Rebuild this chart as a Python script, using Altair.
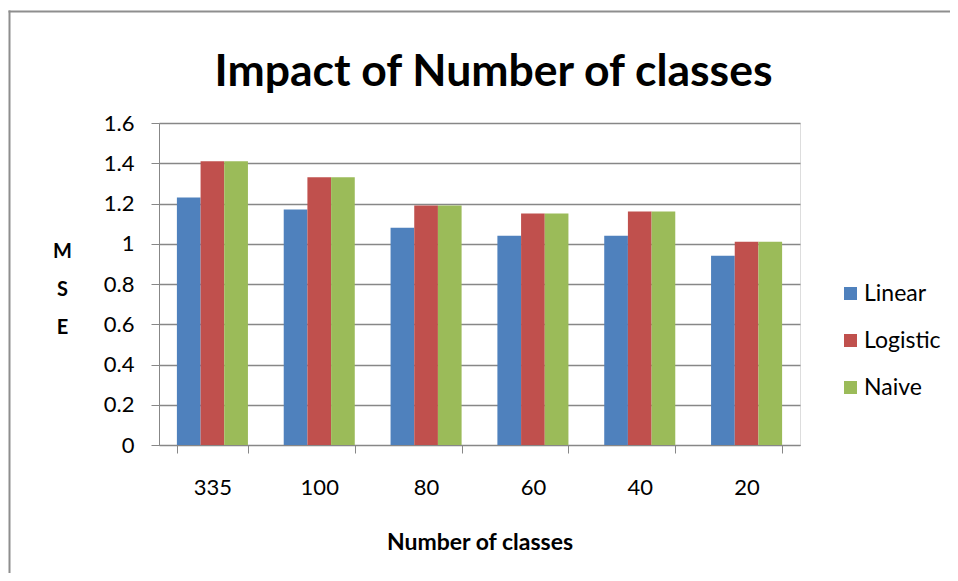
import altair as alt
import pandas as pd

categories = ["335", "100", "80", "60", "40", "20"]
series = ["Linear", "Logistic", "Naive"]
linear = [1.23, 1.17, 1.08, 1.04, 1.04, 0.94]
logistic = [1.41, 1.33, 1.19, 1.15, 1.16, 1.01]
naive = [1.41, 1.33, 1.19, 1.15, 1.16, 1.01]
colors = ["#4F81BD", "#C0504D", "#9BBB59"]
y_ticks = [0, 0.2, 0.4, 0.6, 0.8, 1, 1.2, 1.4, 1.6]

rows = []
for s, vals in zip(series, [linear, logistic, naive]):
    for c, v in zip(categories, vals):
        rows.append({"classes": c, "model": s, "mse": v})
df = pd.DataFrame(rows)

W, H = 641, 322
PL, PT = 151, 115
TOTW, TOTH = 942, 565
FONT = "Lato"
GRAY = "#878787"
FRAME = "#8E8E8E"

bars = alt.Chart(df).mark_bar().encode(
    x=alt.X(
        "classes:N",
        sort=categories,
        scale=alt.Scale(paddingInner=0.335, paddingOuter=0.1675),
        axis=alt.Axis(
            title="Number of classes",
            labelAngle=0,
            tickBand="extent",
            tickSize=8,
            tickColor=GRAY,
            domainColor=GRAY,
            labelFont=FONT,
            labelFontSize=22,
            labelColor="black",
            labelPadding=24,
            titleFont=FONT,
            titleFontSize=23,
            titleFontWeight="bold",
            titleColor="black",
            titlePadding=33,
        ),
    ),
    xOffset=alt.XOffset("model:N", sort=series),
    y=alt.Y(
        "mse:Q",
        scale=alt.Scale(domain=[0, 1.6]),
        axis=alt.Axis(
            values=y_ticks,
            format="~g",
            title=["M", "S", "E"],
            titleAngle=0,
            titleX=-97,
            titleY=134,
            titleAlign="center",
            titleBaseline="alphabetic",
            titleLineHeight=38,
            titleFont=FONT,
            titleFontSize=20,
            titleFontWeight="bold",
            titleColor="black",
            grid=True,
            gridColor=GRAY,
            gridWidth=1.5,
            tickSize=8,
            tickColor=GRAY,
            domainColor=GRAY,
            labelFont=FONT,
            labelFontSize=22,
            labelColor="black",
            labelPadding=17,
        ),
    ),
    color=alt.Color(
        "model:N",
        scale=alt.Scale(domain=series, range=colors),
        legend=alt.Legend(
            title=None,
            orient="none",
            legendX=680,
            legendY=159,
            padding=0,
            symbolType="square",
            symbolSize=169,
            symbolStrokeWidth=0,
            symbolOpacity=1,
            labelFont=FONT,
            labelFontSize=23,
            labelColor="black",
            labelOffset=2,
            rowPadding=23,
        ),
    ),
)

one = pd.DataFrame({"a": [0]})
frame_left = alt.Chart(one).mark_rule(color=FRAME, strokeWidth=2).encode(
    x=alt.value(-149.5), y=alt.value(-112.5), y2=alt.value(600)
)
frame_top = alt.Chart(one).mark_rule(color=FRAME, strokeWidth=2).encode(
    x=alt.value(-150.5), x2=alt.value(TOTW - PL), y=alt.value(-111.5)
)

chart = alt.layer(bars, frame_left, frame_top).properties(
    width=W,
    height=H,
    autosize=alt.AutoSizeParams(type="none"),
    padding={"left": PL, "top": PT, "right": TOTW - PL - W, "bottom": TOTH - PT - H},
    title=alt.TitleParams(
        text="Impact of Number of classes",
        font=FONT,
        fontSize=44.5,
        fontWeight="bold",
        color="black",
        anchor="middle",
        frame="group",
        baseline="alphabetic",
        dx=14,
        dy=121,
        offset=0,
    ),
).configure_view(stroke=None).configure(background="white")

chart.save("out.html", embed_options={"renderer": "svg", "actions": False})
